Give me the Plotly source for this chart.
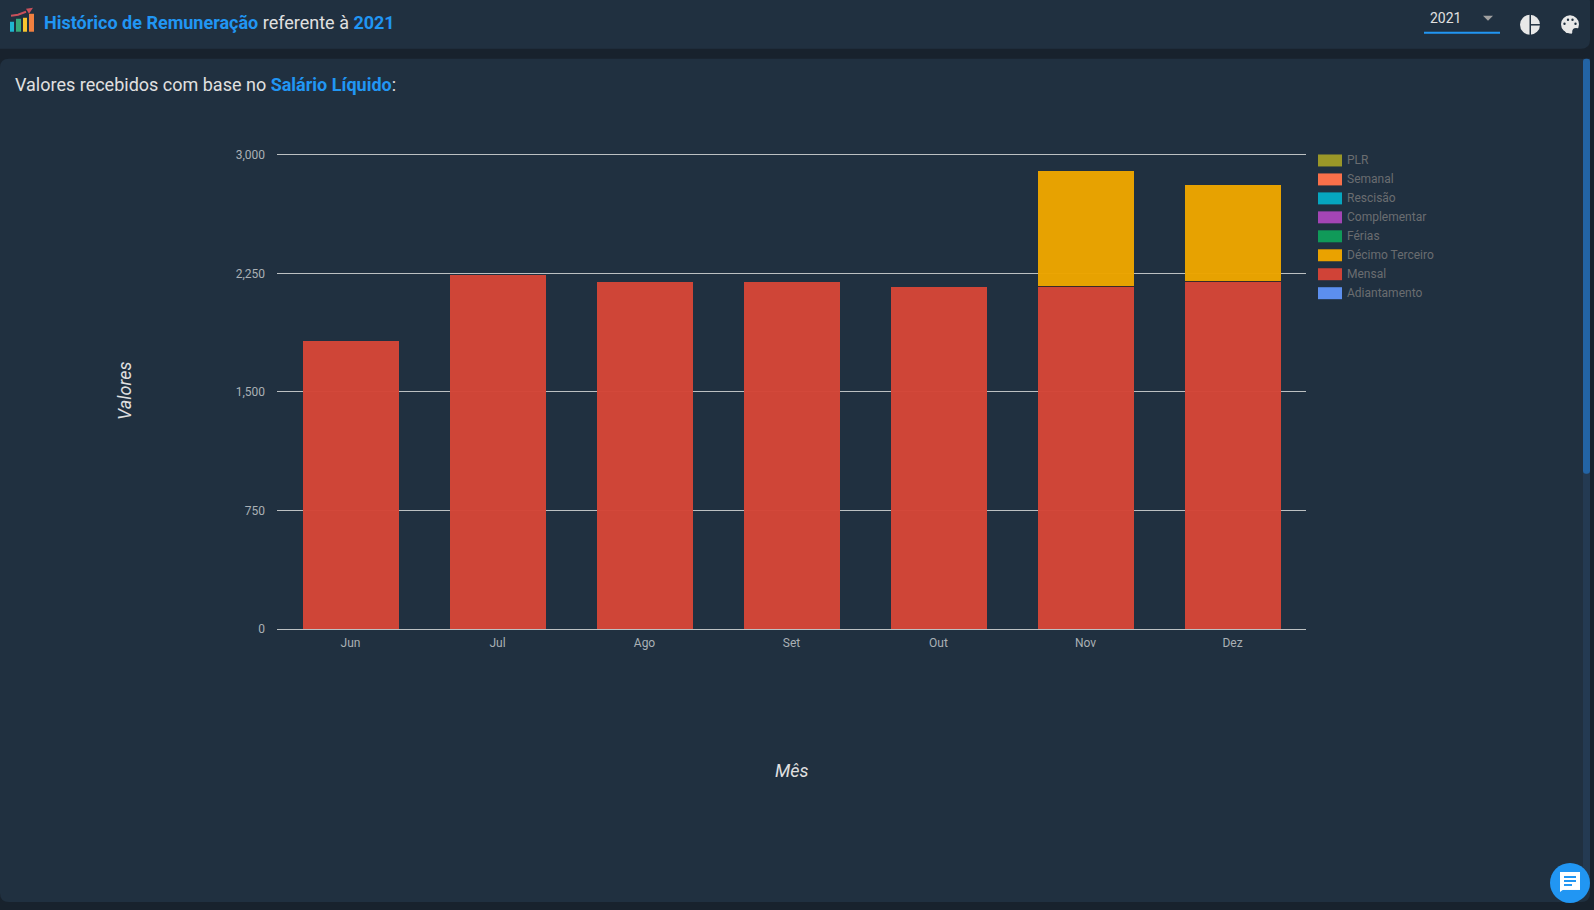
import plotly.graph_objects as go

# Monthly pay history, stacked by payment type
months = ["Jun", "Jul", "Ago", "Set", "Out", "Nov", "Dez"]
mensal = [1822, 2239, 2195, 2195, 2163, 2165, 2198]
seam = [0, 0, 0, 0, 0, 6, 5]
decimo = [0, 0, 0, 0, 0, 725, 604]

legend_names = ["PLR", "Semanal", "Rescisão", "Complementar", "Férias",
                "Décimo Terceiro", "Mensal", "Adiantamento"]
legend_colors = ["#9a9728", "#f9704a", "#06a6c0", "#a345b5", "#109a59",
                 "#eaa200", "#d04337", "#5c8fef"]
y_ticks = [0, 750, 1500, 2250, 3000]

WIDTH, HEIGHT = 1594, 910
# The plot area runs a little above the top tick so its gridline is kept
LEFT, RIGHT, TOP, BOTTOM = 277, 1306, 144.5, 629.5
Y_MAX = 3000 * (BOTTOM - TOP) / 475
CARD = "#203040"
PAGE = "#18222d"
BLUE = "#2196f3"
TEXT = "#e0e0e0"
GRID = "#bcc0c2"


def px(x):
    return (x - LEFT) / (RIGHT - LEFT)


def py(y):
    return (BOTTOM - y) / (BOTTOM - TOP)


def rect(x0, y0, x1, y1, color, layer="below"):
    return dict(type="rect", xref="paper", yref="paper", x0=px(x0), x1=px(x1),
                y0=py(y0), y1=py(y1), fillcolor=color, line_width=0, layer=layer)


def rounded(x0, y0, x1, y1, r, color):
    p = (f"M{px(x0 + r)},{py(y0)} L{px(x1 - r)},{py(y0)} Q{px(x1)},{py(y0)} {px(x1)},{py(y0 + r)} "
         f"L{px(x1)},{py(y1 - r)} Q{px(x1)},{py(y1)} {px(x1 - r)},{py(y1)} "
         f"L{px(x0 + r)},{py(y1)} Q{px(x0)},{py(y1)} {px(x0)},{py(y1 - r)} "
         f"L{px(x0)},{py(y0 + r)} Q{px(x0)},{py(y0)} {px(x0 + r)},{py(y0)} Z")
    return dict(type="path", xref="paper", yref="paper", path=p, fillcolor=color,
                line_width=0, layer="below")


def poly(points, color, layer="above", line=None, width=0):
    p = "M" + " L".join(f"{px(x)},{py(y)}" for x, y in points)
    if line is None:
        p += " Z"
    return dict(type="path", xref="paper", yref="paper", path=p,
                fillcolor=color if line is None else "rgba(0,0,0,0)",
                line=dict(color=line or color, width=width), layer=layer)


def circle(cx, cy, r, color, layer="above"):
    return dict(type="circle", xref="paper", yref="paper", x0=px(cx - r), x1=px(cx + r),
                y0=py(cy - r), y1=py(cy + r), fillcolor=color, line_width=0, layer=layer)


def label(x, y, text, size, color=TEXT, xanchor="left", **kw):
    return dict(xref="paper", yref="paper", x=px(x), y=py(y), text=text, showarrow=False,
                xanchor=xanchor, yanchor="middle", align="left",
                font=dict(family="Roboto", size=size, color=color), **kw)


shapes = [
    rect(0, 0, WIDTH, HEIGHT, PAGE),
    rounded(-8, -8, 1590, 48, 9, CARD),
    rounded(0, 58, 1590, 903, 9, CARD),
    rect(1583, 58, 1590, 890, "#243a52"),
    rounded(1583, 58, 1590, 474, 3, "#2364a5"),
    # select underline and caret
    rect(1424, 31, 1500, 33, BLUE),
    poly([(1483, 15), (1493, 15), (1488, 20)], "#a0a0a0"),
    # chart icon in the header
    rect(10, 21, 14, 31, "#1fb6d0"),
    rect(16, 18, 21, 31, "#37a97a"),
    rect(23, 17, 27, 31, "#f7c52f"),
    rect(29, 13, 34, 31, "#f08040"),
    poly([(11, 15), (18, 14), (26, 11)], "#c9505a", line="#c9505a", width=2),
    poly([(26, 8), (33, 7), (29, 13)], "#c9505a"),
    # report icon
    circle(1530, 24, 10, "#e8e8e8"),
    rect(1529.5, 13, 1531, 35, CARD, layer="above"),
    rect(1530, 23.3, 1541, 24.8, CARD, layer="above"),
    # palette icon
    circle(1570, 23.5, 9, "#e8e8e8"),
    poly([(1563, 26), (1570, 25), (1572, 33), (1566, 32)], "#e8e8e8"),
    circle(1576, 31, 3.8, CARD),
    circle(1564.5, 23, 1.2, CARD),
    circle(1568, 19, 1.2, CARD),
    circle(1572.5, 19, 1.2, CARD),
    circle(1575.5, 23, 1.2, CARD),
    # chat button
    circle(1570, 884, 20, "#2196f3"),
    rect(1560, 873, 1580, 891, "#ffffff", layer="above"),
    poly([(1560, 890), (1560, 893), (1564, 890)], "#ffffff"),
    rect(1564, 877, 1576, 879, BLUE, layer="above"),
    rect(1564, 881, 1576, 883, BLUE, layer="above"),
    rect(1564, 885, 1572, 887, BLUE, layer="above"),
]

annotations = [
    label(42, 22, f'<b><span style="color:{BLUE}">Histórico de Remuneração</span></b> referente à '
                  f'<b><span style="color:{BLUE}">2021</span></b>', 18),
    label(13, 84, f'Valores recebidos com base no <b><span style="color:{BLUE}">Salário Líquido</span></b>:', 18),
    label(1428, 17, "2021", 14),
    label(125, 391, "<i>Valores</i>", 18, textangle=-90, xanchor="center"),
    label(792, 771, "<i>Mês</i>", 18, xanchor="center"),
]

# Hand-placed legend so the swatches stay wide and flat
for i, (name, color) in enumerate(zip(legend_names, legend_colors)):
    yc = 160 + 19 * i
    shapes.append(rect(1318, yc - 6, 1342, yc + 6, color))
    annotations.append(label(1345, yc, name, 12, color="#6a6d70"))

fig = go.Figure()
fig.add_bar(x=months, y=mensal, name="Mensal", marker=dict(color="#d34537", opacity=0.98))
fig.add_bar(x=months, y=seam, name="Ajuste", marker=dict(color="#3a2a2a"))
fig.add_bar(x=months, y=decimo, name="Décimo Terceiro", marker=dict(color="#eca400", opacity=0.98))
fig.update_traces(showlegend=False, hoverinfo="x+y+name", marker_line_width=0)

fig.update_layout(
    width=WIDTH,
    height=HEIGHT,
    margin=dict(l=LEFT, r=WIDTH - RIGHT, t=TOP, b=HEIGHT - BOTTOM, pad=0, autoexpand=False),
    paper_bgcolor=PAGE,
    plot_bgcolor="rgba(0,0,0,0)",
    barmode="stack",
    bargap=0.347,
    showlegend=False,
    shapes=shapes,
    annotations=annotations,
    font=dict(family="Roboto", size=12, color="#aab0b5"),
    xaxis=dict(type="category", showgrid=False, zeroline=False, showline=False, ticks="",
               ticklabelstandoff=5, tickfont=dict(size=12, color="#aab0b5")),
    yaxis=dict(range=[0, Y_MAX], tickvals=y_ticks, tickformat=",d", gridcolor=GRID, gridwidth=1,
               zeroline=True, zerolinecolor=GRID, zerolinewidth=1, showline=False, ticks="",
               ticklabelstandoff=11, tickfont=dict(size=12, color="#aab0b5")),
)

fig.write_html("out.html", config=dict(displayModeBar=False))
